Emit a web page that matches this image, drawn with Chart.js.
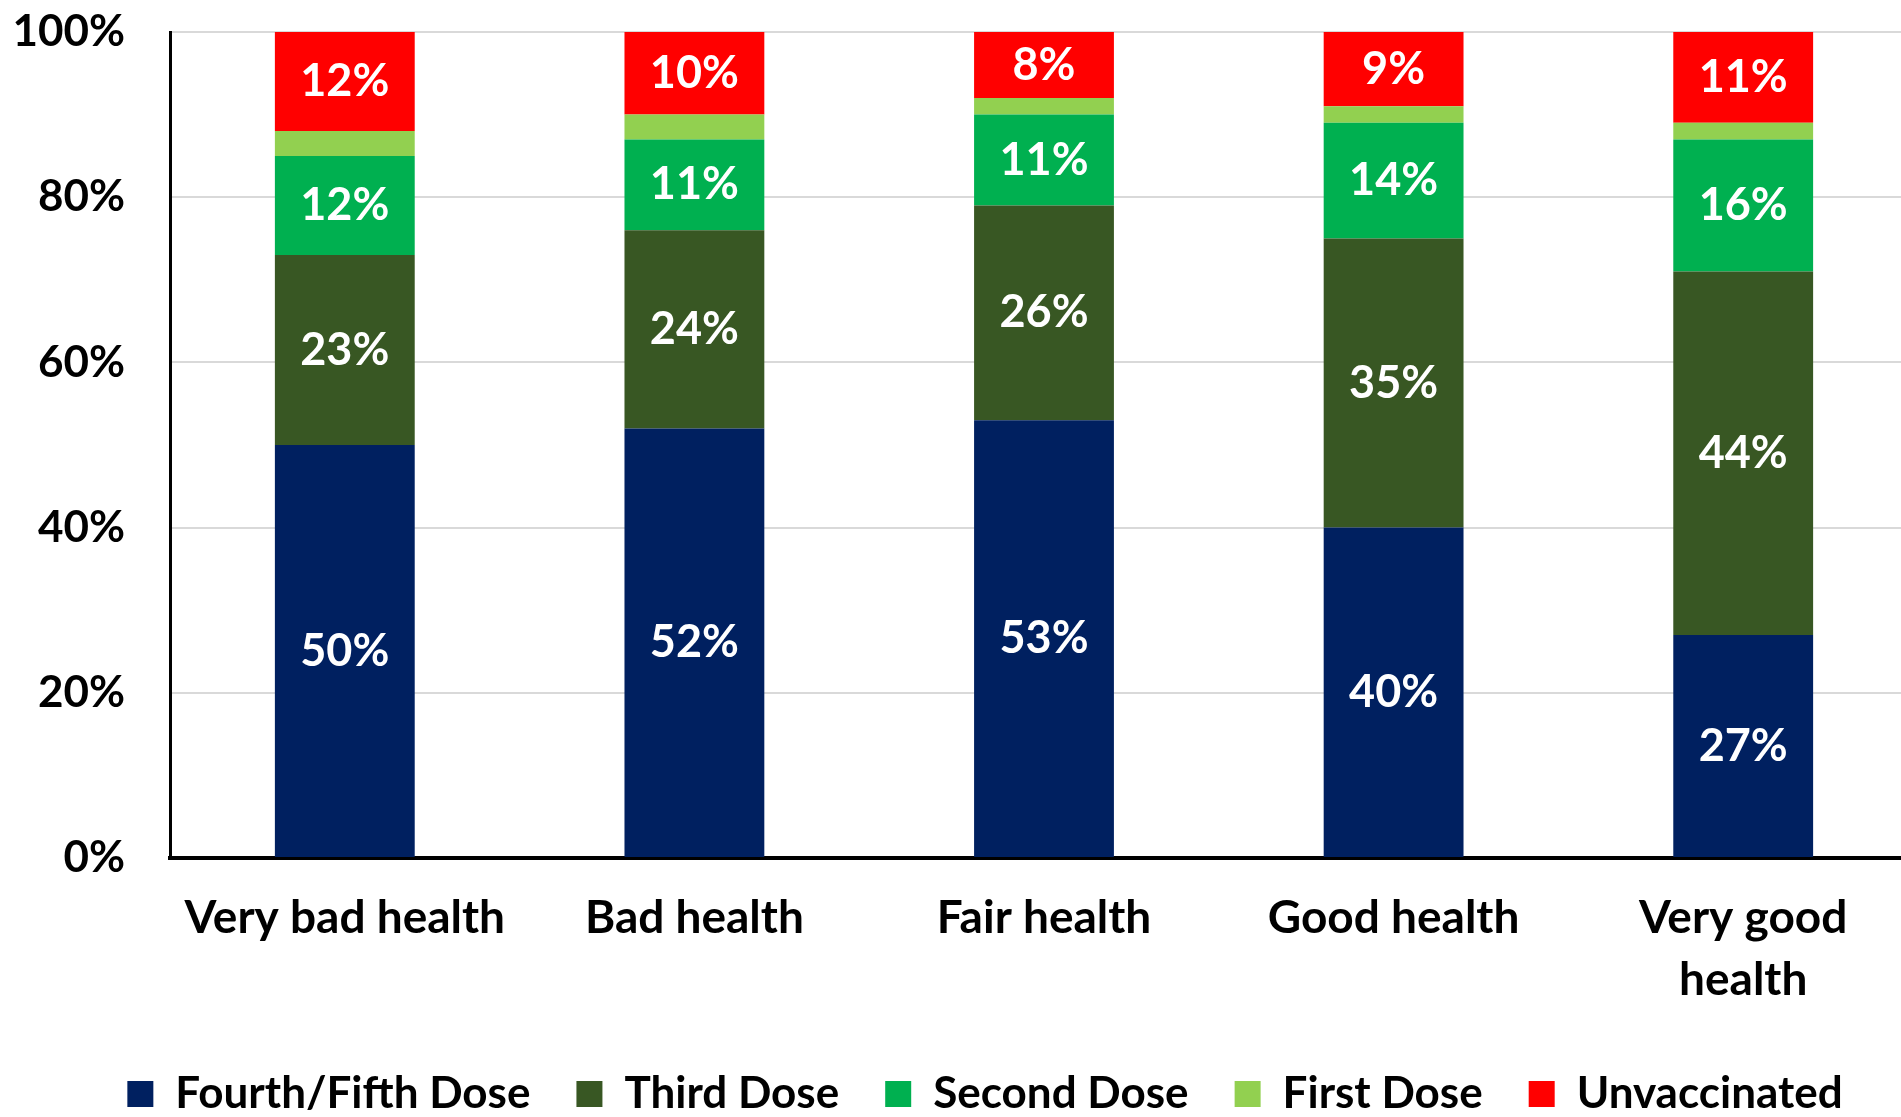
<!DOCTYPE html>
<html>
<head>
<meta charset="utf-8">
<script src="https://cdn.jsdelivr.net/npm/chart.js@4"></script>
<style>
  html, body { margin: 0; padding: 0; background: #fff; overflow: hidden; }
  #wrap { width: 1918px; height: 1117px; }
</style>
</head>
<body>
<div id="wrap"><canvas id="doseChart" width="1918" height="1117"></canvas></div>
<script>
const categories = ["Very bad health", "Bad health", "Fair health", "Good health", ["Very good", "health"]];
const fourthFifth = [50, 52, 53, 40, 27];
const thirdDose = [23, 24, 26, 35, 44];
const secondDose = [12, 11, 11, 14, 16];
const firstDose = [3, 3, 2, 2, 2];
const unvaccinated = [12, 10, 8, 9, 11];
const yTicks = [0, 20, 40, 60, 80, 100];

const FONT = "Lato, 'Open Sans', sans-serif";

// white % labels centred in each segment
const segmentLabels = {
  id: "segmentLabels",
  afterDatasetsDraw(chart) {
    const ctx = chart.ctx;
    ctx.save();
    ctx.font = "bold 45px " + FONT;
    ctx.fillStyle = "#ffffff";
    ctx.textAlign = "center";
    ctx.textBaseline = "middle";
    chart.data.datasets.forEach((ds, i) => {
      if (!ds.showLabel) return;
      chart.getDatasetMeta(i).data.forEach((bar, j) => {
        const p = bar.getProps(["x", "y", "base"], true);
        ctx.fillText(ds.data[j] + "%", p.x, (p.y + p.base) / 2);
      });
    });
    ctx.restore();
  }
};

// fixed legend height, nudged right a little like the original
const legendFit = {
  id: "legendFit",
  beforeLayout(chart) {
    const lg = chart.legend;
    if (!lg || lg._patched) return;
    const fit = lg.fit;
    const draw = lg.draw;
    lg.fit = function () { fit.call(this); this.height = 91; };
    lg.draw = function () {
      const ctx = this.ctx;
      ctx.save();
      ctx.translate(26, 0);
      draw.call(this);
      ctx.restore();
    };
    lg._patched = true;
  }
};

new Chart(document.getElementById("doseChart"), {
  type: "bar",
  data: {
    labels: categories,
    datasets: [
      { label: "Fourth/Fifth Dose", data: fourthFifth, backgroundColor: "#002060", showLabel: true },
      { label: "Third Dose", data: thirdDose, backgroundColor: "#385723", showLabel: true },
      { label: "Second Dose", data: secondDose, backgroundColor: "#00B050", showLabel: true },
      { label: "First Dose", data: firstDose, backgroundColor: "#92D050", showLabel: false },
      { label: "Unvaccinated", data: unvaccinated, backgroundColor: "#FF0000", showLabel: true }
    ]
  },
  options: {
    responsive: false,
    animation: false,
    devicePixelRatio: 1,
    layout: { padding: { top: 32, left: 0, right: 0, bottom: 0 } },
    datasets: { bar: { barPercentage: 0.4, categoryPercentage: 1, borderWidth: 0 } },
    plugins: {
      tooltip: { enabled: false },
      legend: {
        position: "bottom",
        labels: {
          boxWidth: 26, boxHeight: 26, padding: 46,
          color: "#000",
          font: { family: FONT, size: 44, weight: "bold" }
        }
      }
    },
    scales: {
      x: {
        stacked: true,
        grid: { display: false, drawTicks: false },
        border: { color: "#000", width: 4 },
        ticks: {
          color: "#000", padding: 30, maxRotation: 0, autoSkip: false,
          font: { family: FONT, size: 46, weight: "bold", lineHeight: 1.33 }
        },
        afterFit(scale) { scale.height = 168; }
      },
      y: {
        stacked: true,
        min: 0, max: 100,
        afterBuildTicks(scale) { scale.ticks = yTicks.map(v => ({ value: v })); },
        grid: { color: "#d9d9d9", lineWidth: 2, drawTicks: false },
        border: { color: "#000", width: 3 },
        ticks: {
          color: "#000", padding: 45,
          font: { family: FONT, size: 44, weight: "bold" },
          callback: v => v + "%"
        },
        afterFit(scale) {
          scale.width = 170;
          scale.paddingTop = 0;
          scale.paddingBottom = 0;
        }
      }
    }
  },
  plugins: [segmentLabels, legendFit]
});
</script>
</body>
</html>
